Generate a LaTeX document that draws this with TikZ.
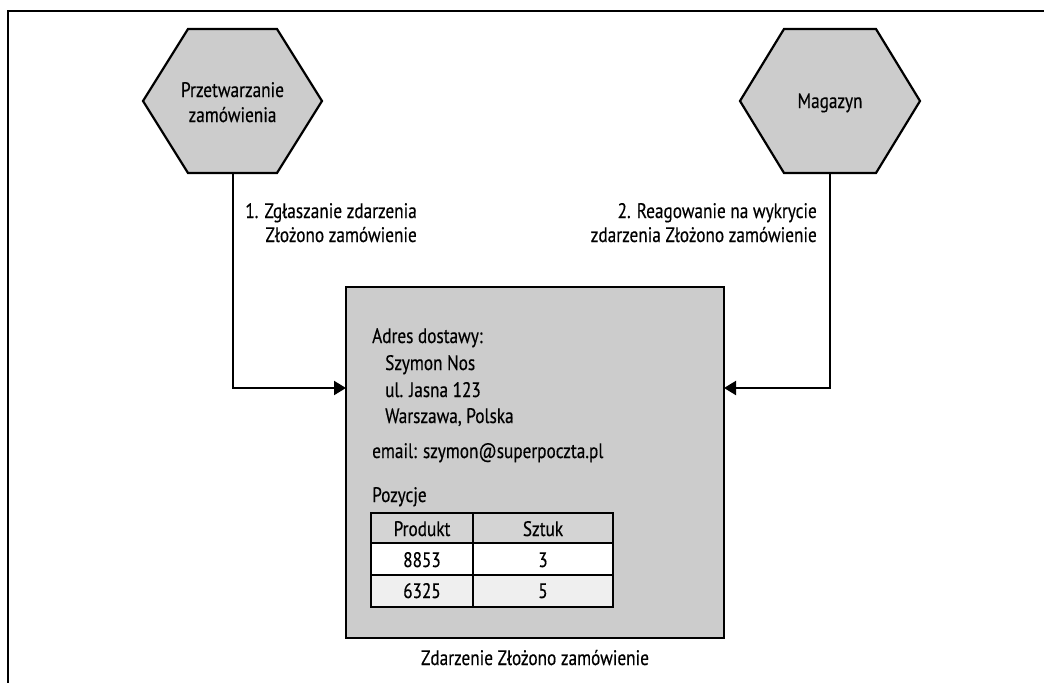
\documentclass[tikz,border=0pt]{standalone}
\usepackage{fontspec}
\setmainfont[FakeStretch=0.82,FakeBold=0.4]{PT Sans}
\usetikzlibrary{arrows.meta,calc}
\definecolor{boxgray}{HTML}{CCCCCC}
\definecolor{hdrgray}{HTML}{D4D4D4}
\definecolor{rowgray}{HTML}{EFEFEF}
\tikzset{
  txt/.style={inner sep=0pt, font=\fontsize{21}{25}\selectfont},
  btxt/.style={txt, anchor=base west},
  hexa/.style={draw=black, fill=boxgray, line width=2.2pt, line join=miter},
  conn/.style={draw=black, line width=2pt, -{Triangle[length=12pt,width=14pt]}},
}
\begin{document}
\begin{tikzpicture}[x=1pt,y=-1pt]
\useasboundingbox (0,0) rectangle (1044,683);
% frame
\draw[line width=2.5pt] (1044,11) -- (8,11) -- (8,683);
% hexagons
\draw[hexa] (143,101) -- (188,29) -- (277,29) -- (322,101) -- (277,173) -- (188,173) -- cycle;
\node[txt, anchor=base] (h1) at (232.5,97) {Przetwarzanie};
\node[txt, anchor=base] (h1b) at (232.5,122) {zamówienia};
\coordinate (h1s) at (232.5,173);
\draw[hexa] (740,101) -- (784,29) -- (876,29) -- (920,101) -- (876,173) -- (784,173) -- cycle;
\node[txt, anchor=base] (h2) at (830,108) {Magazyn};
\coordinate (h2s) at (830,173);
% event box
\node[draw=black, fill=boxgray, line width=2.2pt, minimum width=378pt, minimum height=351pt, inner sep=0pt] (box) at (535,462.5) {};
\coordinate (inL) at (346,388);
\coordinate (inR) at (724,388);
% connectors
\draw[conn] (h1s) |- (inL);
\draw[conn] (h2s) |- (inR);
% connector labels
\node[txt, anchor=base east] (l1a) at (417,218) {1. Zgłaszanie zdarzenia};
\node[txt, anchor=base east] (l1b) at (417,242) {Złożono zamówienie};
\node[txt, anchor=base east] (l2a) at (817,218) {2. Reagowanie na wykrycie};
\node[txt, anchor=base east] (l2b) at (817,242) {zdarzenia Złożono zamówienie};
% box contents
\node[btxt] (t1) at (372,343) {Adres dostawy:};
\node[btxt] (t2) at (385,370) {Szymon Nos};
\node[btxt] (t3) at (385,397) {ul. Jasna 123};
\node[btxt] (t4) at (385,423) {Warszawa, Polska};
\node[btxt] (t5) at (372,458) {email: szymon@superpoczta.pl};
\node[btxt] (t6) at (372,502) {Pozycje};
% table
\fill[hdrgray] (371,513) rectangle (613,543);
\fill[white] (371,543) rectangle (613,575);
\fill[rowgray] (371,575) rectangle (613,607);
\draw[line width=2.2pt] (371,513) rectangle (613,607);
\draw[line width=2.2pt] (371,543) -- (613,543);
\draw[line width=2.2pt] (371,575) -- (613,575);
\draw[line width=2.2pt] (473,513) -- (473,607);
\node[txt, anchor=base] (c11) at (422,536) {Produkt};
\node[txt, anchor=base] (c12) at (543,536) {Sztuk};
\node[txt, anchor=base] (c21) at (422,567) {8853};
\node[txt, anchor=base] (c22) at (543,567) {3};
\node[txt, anchor=base] (c31) at (422,598) {6325};
\node[txt, anchor=base] (c32) at (543,598) {5};
% caption
\node[txt, anchor=base] (cap) at (535,665) {Zdarzenie Złożono zamówienie};
\end{tikzpicture}
\end{document}
